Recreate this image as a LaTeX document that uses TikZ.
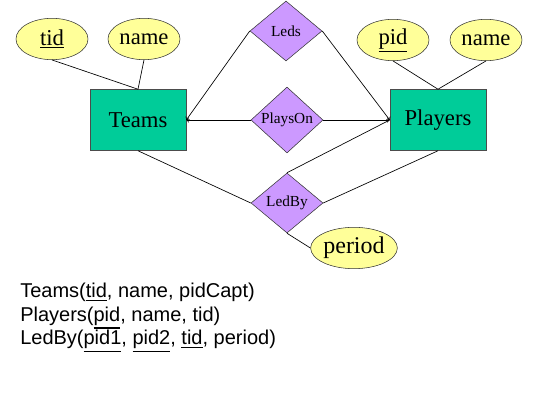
\documentclass[tikz,border=0pt]{standalone}
\usepackage{fontspec}
\setmainfont{Liberation Serif}
\setsansfont{Liberation Sans}
\usetikzlibrary{shapes.geometric,arrows}
\definecolor{attrY}{HTML}{FFFF99}
\definecolor{entG}{HTML}{00CC99}
\definecolor{relP}{HTML}{CC99FF}
\newcommand{\keyul}[1]{\leavevmode\vtop{\hbox{#1}\kern1.3pt\hrule height 1.3pt}}
\tikzset{
  attr/.style={ellipse,draw=black!80,fill=attrY,minimum width=54pt,minimum height=31pt,inner sep=0pt,font=\fontsize{17}{19}\selectfont},
  ent/.style={rectangle,draw=black!70,fill=entG,minimum width=72pt,minimum height=45.75pt,inner sep=0pt,font=\fontsize{17}{19}\selectfont},
  rel/.style={diamond,draw=black!80,fill=relP,minimum width=54pt,minimum height=45pt,inner sep=0pt,font=\fontsize{11.5}{13}\selectfont},
  conn/.style={draw=black,line width=0.5pt},
  arr/.style={conn,-to}
}
\begin{document}
\begin{tikzpicture}[x=0.75pt,y=-0.75pt]
\useasboundingbox (0,0) rectangle (539,409);
\node[attr] (tid) at (52,39) {\underline{tid}};
\node[attr] (tname) at (144,39) {name};
\node[ent] (Teams) at (138,120) {Teams};
\node[attr] (pid) at (393,40) {\underline{pid}};
\node[attr] (pname) at (486,40) {name};
\node[ent] (Players) at (438,120) {Players};
\node[rel] (Leds) at (286,31) {Leds};
\node[rel] (PlaysOn) at (287,120) {PlaysOn};
\node[rel] (LedBy) at (287,203) {LedBy};
\node[attr,font=\fontsize{18}{20}\selectfont] (period) at (354,248) {period};
\draw[conn] (tid.south) -- (Teams.north);
\draw[conn] (tname.south) -- (Teams.north);
\draw[conn] (pid.south) -- (Players.north);
\draw[conn] (pname.south) -- (Players.north);
\draw[arr] (Leds.west) -- (Teams.east);
\draw[arr] (Leds.east) -- (Players.west);
\draw[arr] (PlaysOn.west) -- (Teams.east);
\draw[arr] (PlaysOn.east) -- (Players.west);
\draw[conn] (Teams.south) -- (LedBy.west);
\draw[conn] (LedBy.north) -- (Players.west);
\draw[conn] (LedBy.east) -- (Players.south);
\draw[conn] (LedBy.south) -- (period.west);
\node[anchor=north west,align=left,inner sep=0pt,font=\sffamily\fontsize{15}{17.6}\selectfont] (schema) at (20,283)
  {Teams(\keyul{tid}, name, pidCapt)\\
   Players(\keyul{pid}, name, tid)\\
   LedBy(\keyul{pid1}, \keyul{pid2}, \keyul{tid}, period)};
\end{tikzpicture}
\end{document}
